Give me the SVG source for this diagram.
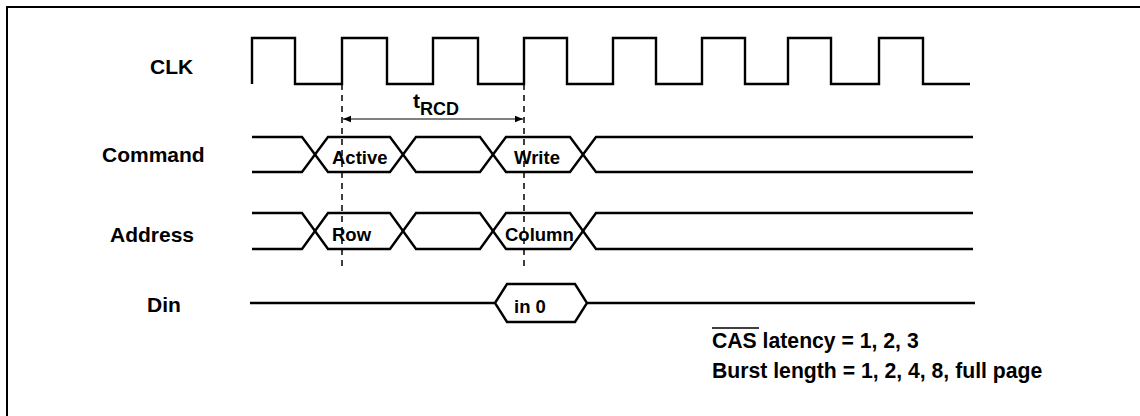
<svg xmlns="http://www.w3.org/2000/svg" width="1140" height="416" viewBox="0 0 1140 416">
<style>
.frame{fill:none;stroke:#000;stroke-width:2}
.wave{fill:none;stroke:#000;stroke-width:2.4;stroke-linejoin:miter}
.dash{fill:none;stroke:#000;stroke-width:1.5;stroke-dasharray:6,5}
.dim{fill:none;stroke:#000;stroke-width:1.2}
.lbl{font-family:"Liberation Sans",Arial,sans-serif;font-weight:bold;font-size:21px;fill:#000}
.bus{font-family:"Liberation Sans",Arial,sans-serif;font-weight:bold;font-size:18.5px;fill:#000}
.note{font-family:"Liberation Sans",Arial,sans-serif;font-weight:bold;font-size:21.2px;fill:#000}
</style>
<defs>
<marker id="ah" viewBox="0 0 10 10" refX="10" refY="5" markerWidth="15" markerHeight="8" markerUnits="userSpaceOnUse" orient="auto-start-reverse">
<path d="M0,1 L10,5 L0,9 Z" fill="#000"/>
</marker>
</defs>
<rect width="1140" height="416" fill="#fff"/>
<path class="frame" d="M7,430 V7 H1145"/>

<g id="clk">
<text class="lbl" x="150" y="74">CLK</text>
<path class="wave" d="M252,84 V38 H295 V84 H342 V38 H387 V84 H433 V38 H478 V84 H524 V38 H567 V84 H613 V38 H656 V84 H702 V38 H745 V84 H788 V38 H831 V84 H879 V38 H923 V84 H970"/>
</g>

<g id="command">
<text class="lbl" x="102" y="162">Command</text>
<path class="wave" d="M252,137 H302 L328,172 H390 L416,137 H480 L506,172 H570 L596,137 H973"/>
<path class="wave" d="M252,172 H302 L328,137 H390 L416,172 H480 L506,137 H570 L596,172 H973"/>
<text class="bus" x="332" y="164">Active</text>
<text class="bus" x="514" y="164">Write</text>
</g>

<g id="address">
<text class="lbl" x="110" y="242">Address</text>
<path class="wave" d="M252,213 H302 L328,249 H390 L416,213 H480 L506,249 H570 L596,213 H973"/>
<path class="wave" d="M252,249 H302 L328,213 H390 L416,249 H480 L506,213 H570 L596,249 H973"/>
<text class="bus" x="332" y="241">Row</text>
<text class="bus" x="505" y="241">Column</text>
</g>

<g id="din">
<text class="lbl" x="147" y="312">Din</text>
<path class="wave" d="M250,303 H495 M495,303 L507,284 H575 L587,303 L575,322 H507 Z M587,303 H975"/>
<text class="bus" x="514" y="313" font-size="20">in 0</text>
</g>

<g id="connectors">
<line class="dash" x1="342" y1="84" x2="342" y2="266"/>
<line class="dash" x1="524" y1="84" x2="524" y2="266"/>
<line class="dim" x1="343" y1="119" x2="523" y2="119" marker-start="url(#ah)" marker-end="url(#ah)"/>
</g>

<g id="trcd">
<text class="lbl" x="413" y="108">t<tspan font-size="18" dy="7">RCD</tspan></text>
</g>

<g id="notes">
<text class="note" x="712" y="348">CAS latency = 1, 2, 3</text>
<line x1="712" y1="328" x2="759" y2="328" stroke="#000" stroke-width="1.5"/>
<text class="note" x="712" y="378">Burst length = 1, 2, 4, 8, full page</text>
</g>
</svg>
